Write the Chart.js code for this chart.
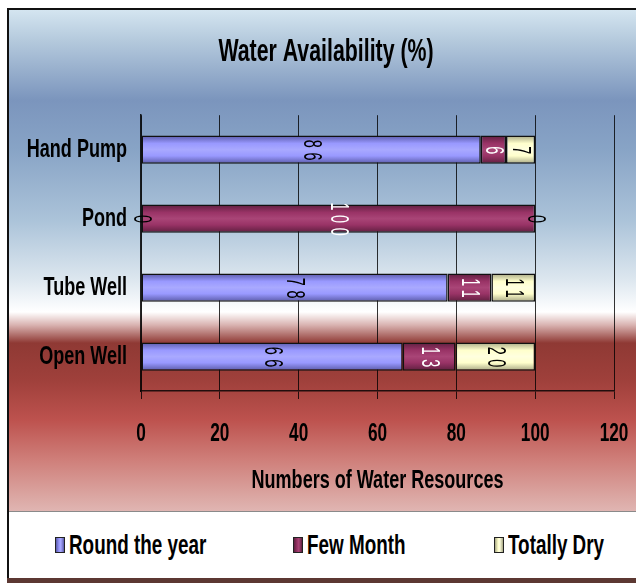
<!DOCTYPE html>
<html>
<head>
<meta charset="utf-8">
<title>Water Availability (%)</title>
<script src="https://cdn.jsdelivr.net/npm/chart.js@4.4.1/dist/chart.umd.min.js"></script>
<style>
  html, body { margin: 0; padding: 0; background: #fff; overflow: hidden; }
  body { width: 636px; height: 583px; position: relative; font-family: 'Liberation Sans', Arial, sans-serif; }
  #frame {
    position: absolute; left: 7px; top: 8px; width: 640px; height: 575px;
    box-sizing: border-box; border-left: 2px solid #111; border-top: 2px solid #111;
    background: linear-gradient(to bottom, #d4e5f0 0px, #b5cadd 30px, #7b95bd 90px, #88a4c6 140px,
      #abc3d9 210px, #dde7ef 270px, #ffffff 302px, #d9b3b1 315px, #8f3934 333px, #9f403b 370px,
      #bd524e 410px, #cf7f7a 450px, #dcaaa6 490px, #e0b5b2 501px);
  }
  #legend { position: absolute; left: 9px; top: 511px; width: 627px; height: 67px; background: #fff; border-top: 1px solid #8a8a8a; box-sizing: border-box; }
  #base { position: absolute; left: 7px; top: 578px; width: 629px; height: 5px; background: #5c3832; }
  canvas { position: absolute; left: 0; top: 0; }
  .item { position: absolute; top: 0; height: 66px; display: flex; align-items: center; }
  .swatch { width: 8px; height: 14px; border: 1px solid #222; flex: none; }
  .label { margin-left: 4px; font-size: 23px; font-weight: bold; color: #000; display: inline-block; white-space: nowrap; transform: scale(0.82, 1.2); transform-origin: left center; }
</style>
</head>
<body>
<div id="frame"></div>
<canvas id="chart" width="636" height="512"></canvas>
<div id="legend"></div>
<div id="base"></div>
<script>
// chart data
const categories = ['Hand Pump', 'Pond', 'Tube Well', 'Open Well'];
const seriesNames = ['Round the year', 'Few Month', 'Totally Dry'];
const roundTheYear = [86.2, 0, 77.8, 66.4];
const fewMonth = [6.4, 100, 11.1, 13.4];
const totallyDry = [7.4, 0, 11.1, 20.2];
const xTicks = [0, 20, 40, 60, 80, 100, 120];

const FONT = "'Liberation Sans', Arial, sans-serif";

// edge / base / highlight colours for each series
const palette = [
    { edge: '#5a5aa8', base: '#9999ff', light: '#a9a9ff', text: '#000' },
    { edge: '#5e1f3f', base: '#993366', light: '#a94577', text: '#fff' },
    { edge: '#a6a683', base: '#ffffcc', light: '#ffffdf', text: '#000' }
];
const barPct = 0.41;

function barFill(p) {
    return function(context) {
        const chart = context.chart;
        const yScale = chart.scales.y;
        if (!yScale || context.dataIndex === undefined) return p.base;
        const cy = yScale.getPixelForValue(context.dataIndex);
        const half = yScale.height / categories.length * barPct / 2;
        if (!isFinite(cy) || !isFinite(half) || half <= 0) return p.base;
        const g = chart.ctx.createLinearGradient(0, cy - half, 0, cy + half);
        g.addColorStop(0, p.edge);
        g.addColorStop(0.28, p.base);
        g.addColorStop(0.5, p.light);
        g.addColorStop(0.72, p.base);
        g.addColorStop(1, p.edge);
        return g;
    };
}

// text in the original is narrow and tall: squeeze it around its anchor point
const tallText = {
    id: 'tallText',
    beforeInit(chart) {
        const ctx = chart.ctx;
        const fill = ctx.fillText.bind(ctx);
        ctx.fillText = function(text, x, y, maxWidth) {
            ctx.save();
            ctx.translate(x, y);
            ctx.scale(0.82, 1.2);
            if (maxWidth === undefined) fill(text, 0, 0);
            else fill(text, 0, 0, maxWidth / 0.82);
            ctx.restore();
        };
    },
    // the title sits a little right of the middle of the frame
    afterLayout(chart) {
        if (chart.titleBlock) {
            chart.titleBlock.left += 14;
            chart.titleBlock.right += 14;
        }
    }
};

// rotated value labels in the middle of each segment
const barLabels = {
    id: 'barLabels',
    afterDatasetsDraw(chart) {
        const ctx = chart.ctx;
        chart.data.datasets.forEach((ds, i) => {
            const meta = chart.getDatasetMeta(i);
            meta.data.forEach((bar, j) => {
                const p = bar.getProps(['x', 'y', 'base'], true);
                const cx = (p.x + p.base) / 2;
                ctx.save();
                ctx.translate(cx, p.y);
                ctx.rotate(Math.PI / 2);
                ctx.scale(0.8, 1);
                ctx.font = '22px ' + FONT;
                ctx.letterSpacing = '7px';
                ctx.fillStyle = palette[i].text;
                ctx.textAlign = 'center';
                ctx.textBaseline = 'middle';
                ctx.fillText(String(Math.round(ds.data[j])), 3.5, 0);
                ctx.restore();
            });
        });
    }
};

const seriesData = [roundTheYear, fewMonth, totallyDry];

const chart = new Chart(document.getElementById('chart'), {
    type: 'bar',
    data: {
        labels: categories,
        datasets: seriesNames.map((name, i) => ({
            label: name,
            data: seriesData[i],
            backgroundColor: barFill(palette[i]),
            borderColor: '#111',
            borderWidth: 1.5,
            borderSkipped: false,
            barPercentage: barPct,
            categoryPercentage: 1
        }))
    },
    options: {
        indexAxis: 'y',
        responsive: false,
        animation: false,
        devicePixelRatio: 1,
        layout: { padding: { left: 10, right: 22, top: 10, bottom: 10 } },
        plugins: {
            legend: { display: false },
            tooltip: { enabled: false },
            title: {
                display: true,
                text: 'Water Availability (%)',
                color: '#000',
                font: { family: FONT, size: 26, weight: 'bold', lineHeight: 1.2 },
                padding: { top: 27, bottom: 47 }
            }
        },
        scales: {
            x: {
                stacked: true,
                min: xTicks[0],
                max: xTicks[xTicks.length - 1],
                ticks: {
                    stepSize: xTicks[1] - xTicks[0],
                    color: '#000',
                    font: { family: FONT, size: 21, weight: 'bold' },
                    padding: 22
                },
                grid: { color: 'rgba(0,0,0,0.8)', lineWidth: 1, tickLength: 8 },
                border: { display: true, color: 'rgba(0,0,0,0.8)', width: 1.5 },
                title: {
                    display: true,
                    text: 'Numbers of Water Resources',
                    color: '#000',
                    font: { family: FONT, size: 22, weight: 'bold' },
                    padding: { top: 0, bottom: 8 }
                },
                afterFit(scale) {
                    scale.height = 111;
                    scale.paddingLeft = 0;
                    scale.paddingRight = 0;
                }
            },
            y: {
                stacked: true,
                grid: { display: false, drawTicks: false },
                border: { display: true, color: 'rgba(0,0,0,0.85)', width: 1.5 },
                ticks: {
                    color: '#000',
                    font: { family: FONT, size: 22, weight: 'bold' },
                    padding: 14
                },
                afterFit(scale) {
                    scale.width = 131;
                    scale.paddingTop = 0;
                    scale.paddingBottom = 0;
                }
            }
        }
    },
    plugins: [tallText, barLabels]
});

// legend in the white strip at the bottom
const legendLeft = [46, 284, 485];
const legend = document.getElementById('legend');
chart.data.datasets.forEach((ds, i) => {
    const p = palette[i];
    const item = document.createElement('div');
    item.className = 'item';
    item.style.left = legendLeft[i] + 'px';
    const sw = document.createElement('span');
    sw.className = 'swatch';
    sw.style.background = 'linear-gradient(to right, ' + p.edge + ', ' + p.base + ' 40%, ' + p.light + ' 60%, ' + p.edge + ')';
    const txt = document.createElement('span');
    txt.className = 'label';
    txt.textContent = ds.label;
    item.appendChild(sw);
    item.appendChild(txt);
    legend.appendChild(item);
});
</script>
</body>
</html>
